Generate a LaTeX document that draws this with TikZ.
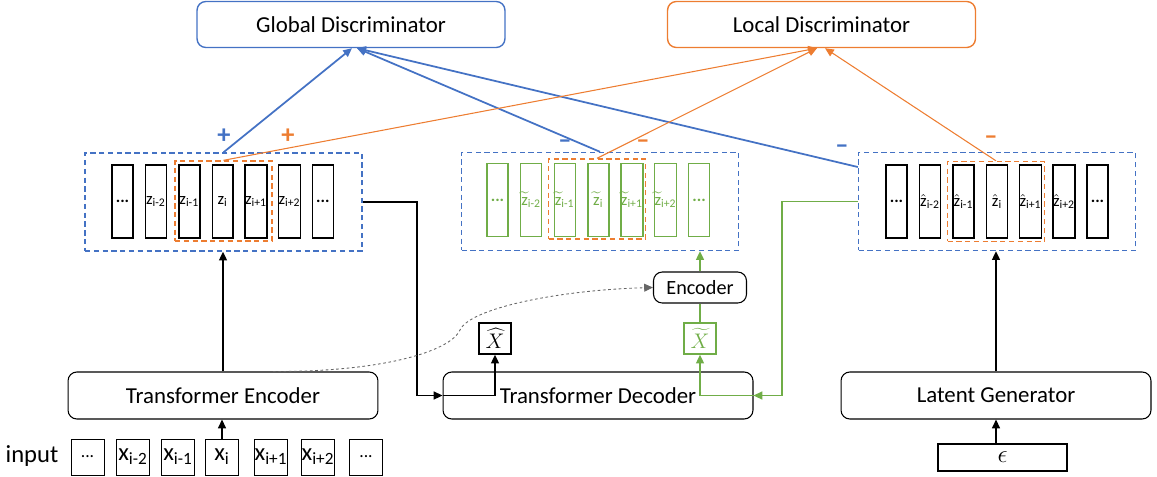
\documentclass[tikz,border=0pt]{standalone}
\usepackage{fontspec}
\setmainfont{Carlito}
\usetikzlibrary{arrows.meta,calc}

\definecolor{dblue}{RGB}{68,114,196}
\definecolor{dorange}{RGB}{237,125,49}
\definecolor{dgreen}{RGB}{112,173,71}
\newcommand{\lsub}[1]{\textsubscript{#1}}
\newcommand{\tz}{\ensuremath{\widetilde{\mbox{z}}}}
\newcommand{\hz}{\ensuremath{\hat{\mbox{z}}}}

\tikzset{
  disc/.style={draw, rounded corners=5pt, line width=0.8pt, minimum width=6.16cm, minimum height=0.92cm, font=\fontsize{13}{15}\selectfont},
  block/.style={draw, rounded corners=5pt, line width=0.6pt, minimum width=6.2cm, minimum height=0.94cm, font=\fontsize{13}{15}\selectfont},
  bar/.style={draw, line width=0.8pt, minimum width=0.42cm, minimum height=1.46cm, inner sep=0pt, font=\fontsize{9.5}{11}\selectfont},
  zbox/.style={draw=dblue, dash pattern=on 3pt off 2pt, line width=0.8pt, minimum width=5.54cm, minimum height=1.96cm},
  obox/.style={draw=dorange, dash pattern=on 3pt off 2pt, line width=0.8pt, minimum width=1.94cm, minimum height=1.6cm},
  inbox/.style={draw, line width=0.5pt, minimum width=0.66cm, minimum height=0.72cm, inner sep=0pt, font=\fontsize{14}{16}\selectfont},
  xbox/.style={draw, line width=0.8pt, minimum width=0.64cm, minimum height=0.62cm, inner sep=0pt, font=\fontsize{13}{15}\selectfont},
  sign/.style={font=\fontsize{15}{17}\selectfont\bfseries},
  tip/.style={-{Triangle[length=5pt,width=4.5pt]}},
}

\begin{document}
\begin{tikzpicture}[x=0.02cm, y=-0.02cm]
  \useasboundingbox (0,0) rectangle (1157,477);

  % Discriminators
  \node[disc, draw=dblue] (gd) at (351,24.5) {Global Discriminator};
  \node[disc, draw=dorange] (ld) at (821.5,24.5) {Local Discriminator};

  % Encoded sequence z
  \node[zbox] (lz) at (223.5,202) {};
  \node[obox] (lo) at (223.5,201) {};
  \foreach \lbl [count=\k from 0] in {\textbf{...}, z\lsub{i-2}, z\lsub{i-1}, z\lsub{i}, z\lsub{i+1}, z\lsub{i+2}, \textbf{...}}
    \node[bar] (z\k) at ({122.5+33.4*\k},201.5) {\lbl};

  % Re-encoded sequence (tilde)
  \node[zbox] (mz) at (600,201.5) {};
  \node[obox] (mo) at (597,199) {};
  \foreach \lbl [count=\k from 0] in {\textbf{...}, \tz\lsub{i-2}, \tz\lsub{i-1}, \tz\lsub{i}, \tz\lsub{i+1}, \tz\lsub{i+2}, \textbf{...}}
    \node[bar, draw=dgreen, text=dgreen] (zt\k) at ({497.5+33.6*\k},200) {\lbl};

  % Generated sequence (hat)
  \node[zbox] (rz) at (997,201.5) {};
  \node[obox] (ro) at (996,201.5) {};
  \foreach \lbl [count=\k from 0] in {\textbf{...}, \hz\lsub{i-2}, \hz\lsub{i-1}, \hz\lsub{i}, \hz\lsub{i+1}, \hz\lsub{i+2}, \textbf{...}}
    \node[bar] (zh\k) at ({896.5+33.5*\k},201.5) {\lbl};

  % Signs
  \node[sign, dblue] (plusg) at (224,136) {+};
  \node[sign, dorange] (plusl) at (288,136) {+};
  \node[sign, dblue] (minusgm) at (565,144) {–};
  \node[sign, dorange] (minuslm) at (643,144) {–};
  \node[sign, dblue] (minusgr) at (842,149) {–};
  \node[sign, dorange] (minuslr) at (991,140) {–};

  % To the discriminators
  \draw[tip, dblue, line width=1pt] (lz.north) -- ([xshift=0.02cm]gd.south);
  \draw[tip, dblue, line width=1pt] (mz.north) -- ([xshift=0.12cm]gd.south);
  \draw[tip, dblue, line width=1pt] ([yshift=0.69cm]rz.west) -- ([xshift=0.12cm]gd.south);
  \draw[tip, dorange, line width=0.6pt] (lo.north) -- ([xshift=-0.09cm]ld.south);
  \draw[tip, dorange, line width=0.6pt] (mo.north) -- ([xshift=-0.09cm]ld.south);
  \draw[tip, dorange, line width=0.6pt] (ro.north) -- ([xshift=0.07cm]ld.south);

  % Blocks
  \node[block] (tenc) at (223,395.5) {Transformer Encoder};
  \node[block] (dec) at (598,395.5) {Transformer Decoder};
  \node[block] (lgen) at (996,395.5) {Latent Generator};
  \node[block, minimum width=1.86cm, minimum height=0.62cm, font=\fontsize{11.5}{13}\selectfont] (enc) at (700,287.5) {Encoder};
  \node[xbox] (xhat) at (495,338.5) {$\widehat{X}$};
  \node[xbox, draw=dgreen, text=dgreen] (xtil) at (700,338.5) {$\widetilde{X}$};
  \node[draw, line width=0.6pt, minimum width=2.58cm, minimum height=0.54cm, font=\fontsize{14}{16}\selectfont] (eps) at (1002.5,457.5) {$\epsilon$};

  % Input
  \node[font=\fontsize{14}{16}\selectfont] (inlbl) at (32,456) {input};
  \foreach \lbl/\xx [count=\k from 0] in {{\fontsize{10}{12}\selectfont...}/87.5, x\lsub{i-2}/133, x\lsub{i-1}/178, x\lsub{i}/222, x\lsub{i+1}/271, x\lsub{i+2}/318, {\fontsize{10}{12}\selectfont...}/366}
    \node[inbox] (in\k) at (\xx,457) {\lbl};

  % Vertical arrows
  \draw[tip, line width=1pt] (in3.north) -- (in3.north |- tenc.south);
  \draw[tip, line width=1pt] (tenc.north) -- (tenc.north |- lz.south);
  \draw[tip, line width=1pt] (lgen.north) -- (lgen.north |- rz.south);
  \draw[tip, line width=1pt] (eps.north -| lgen.south) -- (lgen.south);

  % z into the decoder
  \coordinate (bend) at (417,395.5);
  \draw[tip, line width=1pt] (lz.east) -| (bend) -- (dec.west);
  \draw[tip, line width=1pt] (dec.west) -- (xhat.south |- dec.west) -- (xhat.south);

  % generated z into the decoder
  \coordinate (gbend) at (782,395.5);
  \draw[tip, dgreen, line width=1pt] (rz.west) -| (gbend) -- (dec.east);
  \draw[tip, dgreen, line width=1pt] (dec.east) -- (xtil.south |- dec.east) -- (xtil.south);
  \draw[dgreen, line width=1pt] (xtil.north) -- (enc.south);
  \draw[tip, dgreen, line width=1pt] (enc.north) -- (enc.north |- mz.south);

  % Shared encoder
  \draw[tip, gray!80!black, dash pattern=on 1.5pt off 1.5pt, line width=0.5pt]
    ([xshift=1cm]tenc.north) .. controls (380,372) and (450,352) .. (460,330)
    .. controls (470,308) and (560,290) .. (enc.west);
\end{tikzpicture}
\end{document}
